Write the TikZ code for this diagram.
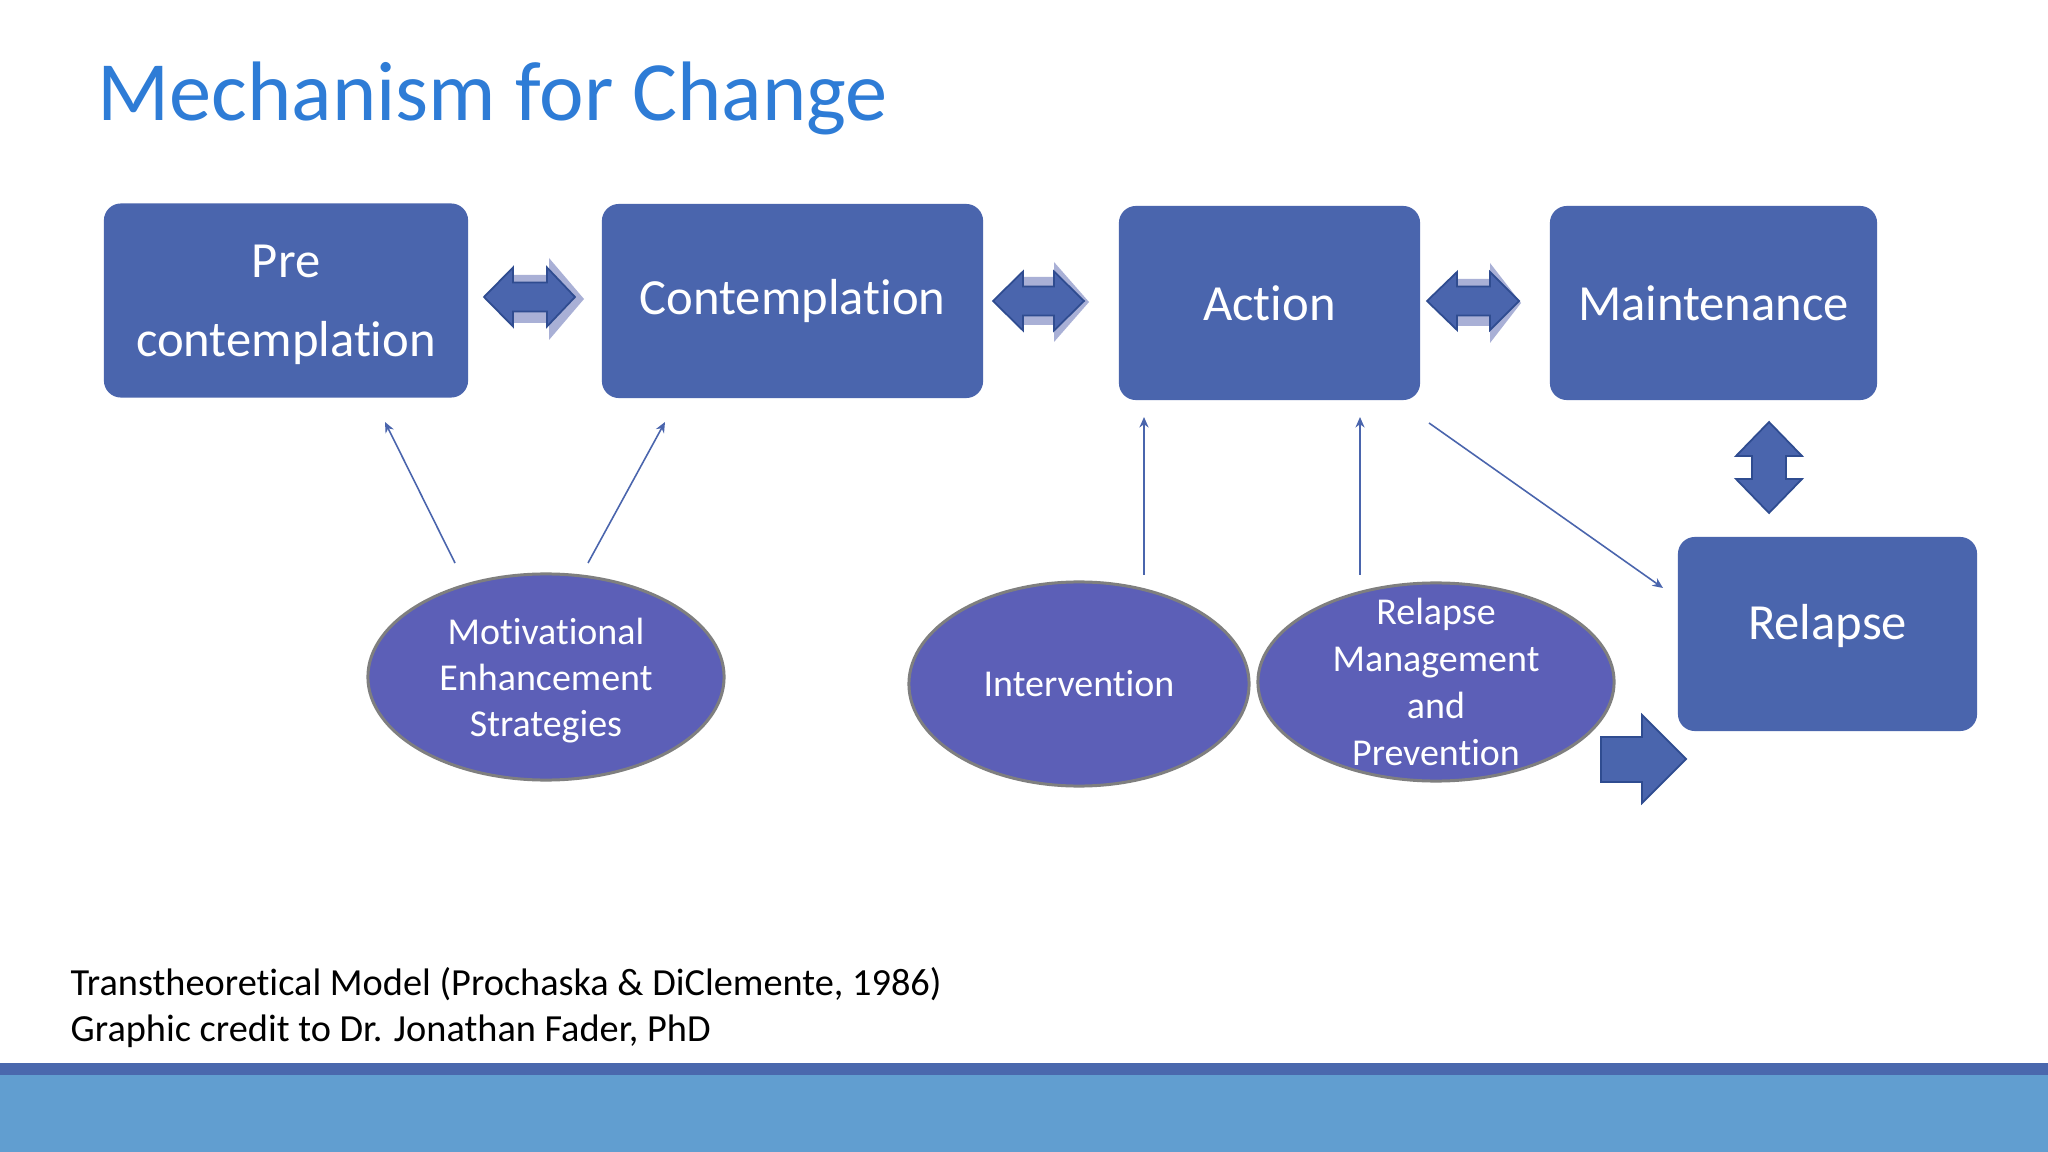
\documentclass[tikz,border=0pt]{standalone}
\usepackage{fontspec}
\setmainfont{Carlito}[Ligatures={NoCommon}]
\usepackage{xcolor}
\usepackage{tikz}
\usetikzlibrary{shapes.geometric,arrows.meta}
\definecolor{titleblue}{HTML}{2E7CD6}
\definecolor{boxblue}{HTML}{4A65AD}
\definecolor{ovalblue}{HTML}{5C5FB7}
\definecolor{ovalgray}{HTML}{7F7F7F}
\definecolor{shadowblue}{HTML}{A9B0D6}
\definecolor{arrowedge}{HTML}{2F4C90}
\definecolor{bardark}{HTML}{4A68AD}
\definecolor{barlight}{HTML}{619ED0}

\begin{document}
\begin{tikzpicture}[x=0.01cm,y=-0.01cm,>={Stealth[length=3pt,width=2.6pt]},
    stage/.style={rectangle,rounded corners=0.17cm,fill=boxblue,text=white,
        inner sep=0pt,minimum height=1.94cm,align=center,
        font=\fontsize{14.4pt}{22.5pt}\selectfont},
    oval/.style={ellipse,fill=ovalblue,draw=ovalgray,line width=0.85pt,
        text=white,inner sep=0pt,align=center,
        font=\fontsize{10.8pt}{13.1pt}\selectfont},
    ovaltext/.style={text=white,inner sep=0pt,align=center,
        font=\fontsize{10.8pt}{13.3pt}\selectfont},
    link/.style={->,draw=boxblue,line width=0.45pt},
    blockarrow/.style={fill=boxblue,draw=arrowedge,line width=0.5pt},
    arrowshade/.style={fill=shadowblue},
    credit/.style={anchor=base west,inner sep=0pt,font=\fontsize{10.9pt}{13pt}\selectfont}]
\useasboundingbox (0,0) rectangle (2048,1152);
\fill[white] (0,0) rectangle (2048,1152);
\fill[barlight] (0,1075) rectangle (2048,1152);
\fill[bardark] (0,1063) rectangle (2048,1075);

% title
\node[anchor=base west,inner sep=0pt,text=titleblue,font=\fontsize{24pt}{28pt}\selectfont]
    (title) at (97,121) {Mechanism for Change};

% stages
\node[stage,minimum width=3.64cm] (pre) at (286,300.5) {\rule{0pt}{11.8pt}Pre\\contemplation};
\node[stage,minimum width=3.81cm] (contemp) at (792.5,301) {Contemplation};
\node[stage,minimum width=3.01cm] (action) at (1269.5,303) {Action};
\node[stage,minimum width=3.27cm] (maint) at (1713.5,303) {Maintenance};
\node[stage,minimum width=2.99cm] (relapse) at (1827.5,634) {Relapse\rule[-6.7pt]{0pt}{6.7pt}};

% strategies
\node[oval,minimum width=3.56cm,minimum height=2.06cm] (mes) at (546,677)
    {\rule{0pt}{9.3pt}Motivational\\Enhancement\\Strategies};
\node[oval,minimum width=3.40cm,minimum height=2.04cm] (interv) at (1079,684)
    {Intervention};
\node[oval,minimum width=3.56cm,minimum height=1.98cm] (rmp) at (1436,682) {};
\node[ovaltext] (rmp-text) at (rmp.center) {Relapse\\Management\\and\\Prevention};

% block arrows between stages
\fill[arrowshade] (484,297) -- (513,267.5) -- (513,275) -- (549,275) -- (549,258) -- (584,299)
    -- (549,340) -- (549,323) -- (513,323) -- (513,326.5) -- cycle;
\draw[blockarrow] (484,297) -- (513,267.5) -- (513,282.5) -- (547,282.5) -- (547,267.5) -- (575,297)
    -- (547,326.5) -- (547,311.5) -- (513,311.5) -- (513,326.5) -- cycle;
\fill[arrowshade] (993,301) -- (1023,271.5) -- (1023,277) -- (1054,277) -- (1054,262) -- (1089,302)
    -- (1054,342) -- (1054,325) -- (1023,325) -- (1023,330.5) -- cycle;
\draw[blockarrow] (993,301) -- (1023,271.5) -- (1023,286.5) -- (1054,286.5) -- (1054,271.5) -- (1084,301)
    -- (1054,330.5) -- (1054,315.5) -- (1023,315.5) -- (1023,330.5) -- cycle;
\fill[arrowshade] (1427,301) -- (1457,272) -- (1457,279) -- (1490,279) -- (1490,263) -- (1521,303)
    -- (1490,343) -- (1490,326) -- (1457,326) -- (1457,330) -- cycle;
\draw[blockarrow] (1427,301) -- (1457,272) -- (1457,286.5) -- (1490,286.5) -- (1490,272) -- (1519,301)
    -- (1490,330) -- (1490,315.5) -- (1457,315.5) -- (1457,330) -- cycle;
\draw[blockarrow] (1769,422) -- (1802,456) -- (1786,456) -- (1786,479) -- (1802,479) -- (1769,513)
    -- (1736,479) -- (1752,479) -- (1752,456) -- (1736,456) -- cycle;
\draw[blockarrow] (1601,737) -- (1642,737) -- (1642,715) -- (1686,759) -- (1642,803)
    -- (1642,782) -- (1601,782) -- cycle;

% thin connectors
\coordinate (mes-a) at (455,563);
\coordinate (mes-b) at (588,563);
\coordinate (pre-in) at (385,422);
\coordinate (contemp-in) at (665,422);
\coordinate (interv-out) at (1144,575);
\coordinate (rmp-out) at (1360,575);
\coordinate (action-in-a) at (1144,417);
\coordinate (action-in-b) at (1360,417);
\coordinate (action-out) at (1429,423);
\coordinate (relapse-in) at (1663,588);
\draw[link] (mes-a) -- (pre-in);
\draw[link] (mes-b) -- (contemp-in);
\draw[link] (interv-out) -- (action-in-a);
\draw[link] (rmp-out) -- (action-in-b);
\draw[link] (action-out) -- (relapse-in);

% source
\node[credit] (cred1) at (70,995) {Transtheoretical Model (Prochaska \& DiClemente, 1986)};
\node[credit] (cred2) at (70,1041) {Graphic credit to Dr. Jonathan Fader, PhD};
\end{tikzpicture}
\end{document}
